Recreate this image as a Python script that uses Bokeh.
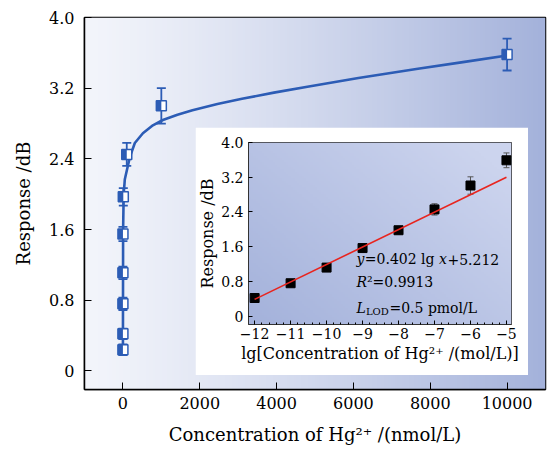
import numpy as np
from bokeh.plotting import figure
from bokeh.models import (ColumnDataSource, Whisker, TeeHead, FixedTicker,
                          CustomJSTickFormatter, Label, GridBox, Range1d)
from bokeh.embed import file_html
from bokeh.resources import INLINE

# ---------------- data ----------------
conc_nmol = [0, 0.001, 0.01, 0.1, 1, 10, 100, 1000, 10000]
response = [0.24, 0.42, 0.76, 1.11, 1.55, 1.97, 2.45, 3.00, 3.58]
response_err = [0.06, 0.06, 0.07, 0.07, 0.08, 0.10, 0.13, 0.20, 0.18]

fit_conc = [0, 5, 20, 50, 180, 310, 520, 780, 1040, 1420, 1810, 2460, 3100,
            3930, 4840, 6130, 7680, 8850, 10000]
fit_resp = [0.18, 1.60, 2.00, 2.17, 2.42, 2.58, 2.69, 2.78, 2.84, 2.90, 2.95,
            3.02, 3.08, 3.15, 3.22, 3.315, 3.42, 3.495, 3.57]

lg_conc = [-12, -11, -10, -9, -8, -7, -6, -5]
lg_resp = [0.42, 0.76, 1.12, 1.57, 1.98, 2.46, 3.01, 3.59]
lg_err = [0.05, 0.05, 0.06, 0.07, 0.08, 0.13, 0.20, 0.17]
lin_x = [-12, -5]
lin_y = [0.388, 3.202]

main_xticks = [0, 2000, 4000, 6000, 8000, 10000]
main_yticks = [0, 0.8, 1.6, 2.4, 3.2, 4.0]
inset_xticks = [-12, -11, -10, -9, -8, -7, -6, -5]
inset_yticks = [0, 0.8, 1.6, 2.4, 3.2, 4.0]

main_xlabel = "Concentration of Hg\u00b2\u207a /(nmol/L)"
main_ylabel = "Response /dB"
inset_xlabel = "lg[Concentration of Hg\u00b2\u207a /(mol/L)]"
inset_ylabel = "Response /dB"

# ---------------- style ----------------
FONT = "DejaVu Serif"
BLUE = "#2c5cb5"
W, H = 547, 447
ML, MR, MT, MB = 84, 2, 17, 55
XR = (-1000, 11000)
YR = (-0.21, 4.0)


def gradient(c0, c1, nx, ny, wx, wy, gamma=1.0):
    xs = np.linspace(0, 1, nx)
    ys = np.linspace(0, 1, ny)
    X, Y = np.meshgrid(xs, ys)
    t = np.clip(wx * X + wy * Y, 0, 1) ** gamma
    img = np.empty((ny, nx), dtype=np.uint32)
    view = img.view(dtype=np.uint8).reshape((ny, nx, 4))
    for k in range(3):
        view[:, :, k] = (c0[k] + (c1[k] - c0[k]) * t).astype(np.uint8)
    view[:, :, 3] = 255
    return img


def style_axes(fig, size, xt, yt, xfmt, yfmt, tick_in):
    for ax in (fig.xaxis[0], fig.yaxis[0]):
        ax.major_label_text_font = FONT
        ax.major_label_text_font_size = size
        ax.major_label_text_color = "black"
        ax.axis_label_text_font = FONT
        ax.axis_label_text_font_style = "normal"
        ax.axis_label_text_color = "black"
        ax.major_tick_in = tick_in
        ax.major_tick_out = 0
        ax.minor_tick_in = 0
        ax.minor_tick_out = 0
    fig.xaxis[0].ticker = FixedTicker(ticks=xt)
    fig.yaxis[0].ticker = FixedTicker(ticks=yt)
    fig.xaxis[0].formatter = xfmt
    fig.yaxis[0].formatter = yfmt
    fig.xgrid.visible = False
    fig.ygrid.visible = False


# ---------------- main figure ----------------
p = figure(width=W, height=H, x_range=Range1d(*XR), y_range=Range1d(*YR),
           output_backend="svg", toolbar_location=None,
           min_border_left=ML, min_border_right=MR, min_border_top=MT,
           min_border_bottom=MB)
p.border_fill_color = "white"
p.outline_line_color = "black"
p.outline_line_width = 1.5

bg = gradient((243, 245, 251), (164, 178, 219), 200, 50, 1.0, 0.0, 1.2)
p.image_rgba(image=[bg], x=XR[0], y=YR[0], dw=XR[1] - XR[0], dh=YR[1] - YR[0],
             level="image")

p.line(fit_conc, fit_resp, line_color=BLUE, line_width=2.6)

src = ColumnDataSource(dict(
    x=conc_nmol, y=response,
    upper=[v + e for v, e in zip(response, response_err)],
    lower=[v - e for v, e in zip(response, response_err)]))
p.add_layout(Whisker(source=src, base="x", upper="upper", lower="lower",
                     dimension="height", line_color=BLUE, line_width=1.8,
                     upper_head=TeeHead(size=9, line_color=BLUE, line_width=1.8),
                     lower_head=TeeHead(size=9, line_color=BLUE, line_width=1.8)))

MSIZE = 10
frame_w = W - ML - MR
px = (XR[1] - XR[0]) / frame_w
p.scatter("x", "y", source=src, marker="square", size=MSIZE,
          fill_color="white", line_color=BLUE, line_width=1.5)
p.rect(x=[c - MSIZE * px / 4 for c in conc_nmol], y=response,
       width=MSIZE * px / 2, height=MSIZE, height_units="screen",
       fill_color=BLUE, line_color=None)

fmt_y = CustomJSTickFormatter(code="return tick == 0 ? '0' : tick.toFixed(1);")
fmt_x = CustomJSTickFormatter(code="return tick.toFixed(0);")
style_axes(p, "16px", main_xticks, main_yticks, fmt_x, fmt_y, 7)
p.xaxis.axis_label = main_xlabel
p.yaxis.axis_label = main_ylabel
p.xaxis.axis_label_text_font_size = "18px"
p.yaxis.axis_label_text_font_size = "18px"
p.xaxis.major_label_standoff = 7
p.yaxis.major_label_standoff = 10
p.xaxis.axis_label_standoff = 12
p.yaxis.axis_label_standoff = 12
p.xaxis.axis_line_color = "black"
p.yaxis.axis_line_color = "black"
p.xaxis.axis_line_width = 1.5
p.yaxis.axis_line_width = 1.5

# ---------------- inset ----------------
IW, IH = 333, 248
IXR = (-12.17, -4.86)
IYR = (-0.19, 4.0)
ins = figure(width=IW, height=IH, x_range=Range1d(*IXR), y_range=Range1d(*IYR),
             output_backend="svg", toolbar_location=None,
             min_border_left=53, min_border_right=17, min_border_top=15,
             min_border_bottom=51)
ins.border_fill_color = "white"
ins.outline_line_color = "#333333"
ins.outline_line_width = 1

ibg = gradient((164, 178, 219), (204, 212, 238), 120, 80, 0.6, 0.5, 1.0)
ins.image_rgba(image=[ibg], x=IXR[0], y=IYR[0], dw=IXR[1] - IXR[0],
               dh=IYR[1] - IYR[0], level="image")

isrc = ColumnDataSource(dict(
    x=lg_conc, y=lg_resp,
    upper=[v + e for v, e in zip(lg_resp, lg_err)],
    lower=[v - e for v, e in zip(lg_resp, lg_err)]))
ins.add_layout(Whisker(source=isrc, base="x", upper="upper", lower="lower",
                       dimension="height", line_color="#555555", line_width=1,
                       upper_head=TeeHead(size=6, line_color="#555555", line_width=1),
                       lower_head=TeeHead(size=6, line_color="#555555", line_width=1)))
ins.scatter("x", "y", source=isrc, marker="square", size=9,
            fill_color="black", line_color="black")
ins.line(lin_x, lin_y, line_color="#e8251f", line_width=1.6)

fmt_ix = CustomJSTickFormatter(
    code="return (tick < 0 ? '\u2212' : '') + Math.abs(tick).toFixed(0);")
style_axes(ins, "14px", inset_xticks, inset_yticks, fmt_ix, fmt_y, 4)
ins.xaxis[0].ticker = FixedTicker(
    ticks=inset_xticks,
    minor_ticks=[t + d for t in inset_xticks[:-1] for d in (0.2, 0.4, 0.6, 0.8)])
ins.xaxis.minor_tick_in = 2
ins.xaxis.axis_label = inset_xlabel
ins.yaxis.axis_label = inset_ylabel
ins.xaxis.axis_label_text_font_size = "16px"
ins.yaxis.axis_label_text_font_size = "16px"
ins.xaxis.major_label_standoff = 3
ins.yaxis.major_label_standoff = 5
ins.xaxis.axis_label_standoff = 2
ins.yaxis.axis_label_standoff = 1
ins.xaxis.axis_line_color = "#333333"
ins.yaxis.axis_line_color = "#333333"

TX = -9.17
TS = "14px"


def lab(x, y, text, dx=0, dy=0, style="normal", size=TS):
    ins.add_layout(Label(x=x, y=y, text=text, x_offset=dx, y_offset=dy,
                         text_font=FONT, text_font_size=size,
                         text_font_style=style, text_baseline="middle",
                         text_align="left", text_color="black"))


lab(TX, 1.31, "y", style="italic")
lab(TX, 1.31, "=0.402 lg", dx=8.4)
lab(TX, 1.31, "x", dx=82.6, style="italic")
lab(TX, 1.31, "+5.212", dx=91)
lab(TX, 0.78, "R", style="italic")
lab(TX, 0.78, "\u00b2=0.9913", dx=10.5)
lab(TX, 0.20, "L", style="italic")
lab(TX, 0.20, "LOD", dx=9.5, dy=-4, size="10px")
lab(TX, 0.20, "=0.5 pmol/L", dx=33)

ROW0, COL0 = 127, 195
layout = GridBox(children=[(p, 0, 0, 3, 3), (ins, 1, 1, 1, 1)],
                 rows=["%dpx" % ROW0, "%dpx" % IH, "%dpx" % (H - ROW0 - IH)],
                 cols=["%dpx" % COL0, "%dpx" % IW, "%dpx" % (W - COL0 - IW)])

open("out.html", "w").write(file_html(layout, INLINE))
